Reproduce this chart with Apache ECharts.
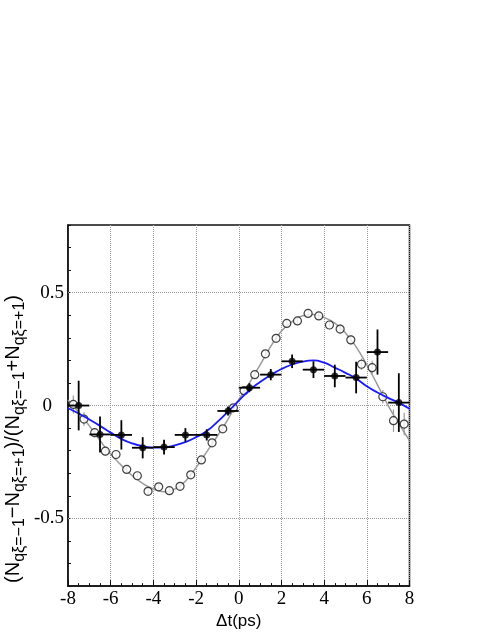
<!DOCTYPE html>
<html>
<head>
<meta charset="utf-8">
<script src="https://cdn.jsdelivr.net/npm/echarts@6/dist/echarts.min.js"></script>
<style>
  html, body {margin:0; padding:0; background:#fff;}
  #main {width:491px; height:635px;}
</style>
</head>
<body>
<div id="main"></div>
<script>
// fit curves, every 0.5 ps
const curveT = [-8,-7.5,-7,-6.5,-6,-5.5,-5,-4.5,-4,-3.5,-3,-2.5,-2,-1.5,-1,-0.5,0,0.5,1,1.5,2,2.5,3,3.5,4,4.5,5,5.5,6,6.5,7,7.5,8];
const grayCurve = [0.025,-0.03,-0.09,-0.155,-0.215,-0.265,-0.31,-0.345,-0.37,-0.382,-0.37,-0.335,-0.275,-0.205,-0.135,-0.06,0.025,0.1,0.18,0.262,0.33,0.372,0.398,0.403,0.39,0.365,0.322,0.26,0.18,0.092,0.0,-0.08,-0.155];
const blueCurve = [-0.012,-0.035,-0.062,-0.09,-0.12,-0.148,-0.168,-0.18,-0.186,-0.185,-0.177,-0.162,-0.14,-0.113,-0.072,-0.026,0.022,0.068,0.104,0.135,0.162,0.182,0.195,0.2,0.19,0.168,0.145,0.12,0.085,0.058,0.034,0.012,-0.014];

// filled points (1 ps bins)
const binT = [-7.5,-6.5,-5.5,-4.5,-3.5,-2.5,-1.5,-0.5,0.5,1.5,2.5,3.5,4.5,5.5,6.5,7.5];
const binVal = [0.0,-0.128,-0.13,-0.187,-0.184,-0.13,-0.13,-0.024,0.079,0.137,0.196,0.159,0.131,0.124,0.237,0.013];
const binErr = [0.11,0.08,0.065,0.047,0.033,0.03,0.025,0.02,0.02,0.025,0.03,0.037,0.05,0.07,0.1,0.13];
const binHalfWidth = 0.5;

// open points (0.5 ps bins)
const openT = [-7.75,-7.25,-6.75,-6.25,-5.75,-5.25,-4.75,-4.25,-3.75,-3.25,-2.75,-2.25,-1.75,-1.25,-0.75,-0.25,0.25,0.75,1.25,1.75,2.25,2.75,3.25,3.75,4.25,4.75,5.25,5.75,6.25,6.75,7.25,7.75];
const openVal = [0.005,-0.06,-0.12,-0.202,-0.217,-0.283,-0.311,-0.38,-0.36,-0.377,-0.358,-0.307,-0.241,-0.165,-0.103,-0.01,0.066,0.137,0.229,0.298,0.364,0.375,0.408,0.397,0.357,0.339,0.291,0.183,0.168,0.039,-0.067,-0.082];
const openErr = [0.04,0.03,0.02,0.02,0.02,0.015,0.015,0.015,0.015,0.015,0.015,0.015,0.015,0.015,0.015,0.015,0.015,0.015,0.015,0.015,0.015,0.015,0.015,0.015,0.015,0.02,0.02,0.025,0.03,0.03,0.05,0.05];

const yGrid = [-0.5, 0, 0.5];

const pair = (xs, ys) => xs.map((x, i) => [x, ys[i]]);

function errBar(color, width, withX) {
  return function (params, api) {
    const x = api.value(0), y = api.value(1), e = api.value(2), w = api.value(3);
    const top = api.coord([x, y + e]);
    const bot = api.coord([x, y - e]);
    const children = [{
      type: 'line',
      shape: {x1: top[0], y1: top[1], x2: bot[0], y2: bot[1]},
      style: {stroke: color, lineWidth: width}
    }];
    if (withX) {
      const l = api.coord([x - w, y]);
      const r = api.coord([x + w, y]);
      children.push({
        type: 'line',
        shape: {x1: l[0], y1: l[1], x2: r[0], y2: r[1]},
        style: {stroke: color, lineWidth: width}
      });
    }
    return {type: 'group', children: children};
  };
}

const near = (v, t) => Math.abs(v - t) < 1e-6;

const chart = echarts.init(document.getElementById('main'));
chart.setOption({
  animation: false,
  grid: {
    left: 68, right: 81.5, top: 225, bottom: 45.3,
    show: true, borderColor: '#111', borderWidth: 1.5, backgroundColor: '#fff'
  },
  xAxis: {
    type: 'value', min: -8, max: 8, interval: 2,
    name: 'Δt(ps)', nameLocation: 'middle', nameGap: 18,
    nameTextStyle: {fontFamily: 'Liberation Sans', fontSize: 17, color: '#000'},
    axisLine: {show: true, onZero: false, lineStyle: {color: '#111', width: 1.5}},
    axisTick: {inside: true, length: 6, lineStyle: {color: '#111'}},
    minorTick: {show: true, splitNumber: 4, length: 3, lineStyle: {color: '#111'}},
    axisLabel: {margin: 3, fontFamily: 'Liberation Serif', fontSize: 19, color: '#000',
      formatter: v => String(v)},
    splitLine: {show: true, lineStyle: {type: 'dotted', color: '#999', width: 1}}
  },
  yAxis: {
    type: 'value', min: -0.8, max: 0.8, interval: 0.1,
    axisLine: {show: true, onZero: false, lineStyle: {color: '#111', width: 1.5}},
    axisTick: {inside: true, length: 3, lineStyle: {color: '#111'}},
    axisLabel: {
      margin: 4, fontFamily: 'Liberation Serif', fontSize: 19, color: '#000',
      formatter: function (v) {
        if (near(v, 0)) return '{z|0}';
        if (near(v, 0.5)) return '0.5';
        if (near(v, -0.5)) return '-0.5';
        return '';
      },
      rich: {z: {fontFamily: 'Liberation Serif', fontSize: 19, color: '#000', padding: [0, 12, 0, 0]}}
    },
    splitLine: {show: false}
  },
  graphic: [{
    type: 'text',
    x: 13, y: 439,
    rotation: Math.PI / 2,
    style: {
      text: '{m|(N}{s|qξ=−1}{m|−N}{s|qξ=+1}{m|)/(N}{s|qξ=−1}{m|+N}{s|qξ=+1}{m|)}',
      align: 'center', verticalAlign: 'middle',
      rich: {
        m: {fontFamily: 'Liberation Sans', fontSize: 20, lineHeight: 30, fill: '#000'},
        s: {fontFamily: 'Liberation Sans', fontSize: 16, lineHeight: 15, verticalAlign: 'bottom', fill: '#000'}
      }
    }
  }],
  series: [
    {
      type: 'line', data: pair(curveT, grayCurve), smooth: true, symbol: 'none', z: 3,
      lineStyle: {color: '#9a9a9a', width: 1.5},
      markLine: {
        silent: true, symbol: 'none', label: {show: false},
        lineStyle: {type: 'dotted', color: '#999', width: 1},
        data: yGrid.map(v => ({yAxis: v}))
      }
    },
    {
      type: 'custom', renderItem: errBar('#9a9a9a', 1.2, false), z: 4,
      data: openT.map((t, i) => [t, openVal[i], openErr[i], 0])
    },
    {
      type: 'scatter', data: pair(openT, openVal), symbol: 'circle', symbolSize: 8, z: 5,
      itemStyle: {color: '#fff', borderColor: '#111', borderWidth: 1.2}
    },
    {
      type: 'line', data: pair(curveT, blueCurve), smooth: true, symbol: 'none', z: 6,
      lineStyle: {color: '#1a1aff', width: 1.8}
    },
    {
      type: 'custom', renderItem: errBar('#000', 1.8, true), z: 7,
      data: binT.map((t, i) => [t, binVal[i], binErr[i], binHalfWidth])
    },
    {
      type: 'scatter', data: pair(binT, binVal), symbol: 'circle', symbolSize: 7, z: 8,
      itemStyle: {color: '#000'}
    }
  ]
});
</script>
</body>
</html>
